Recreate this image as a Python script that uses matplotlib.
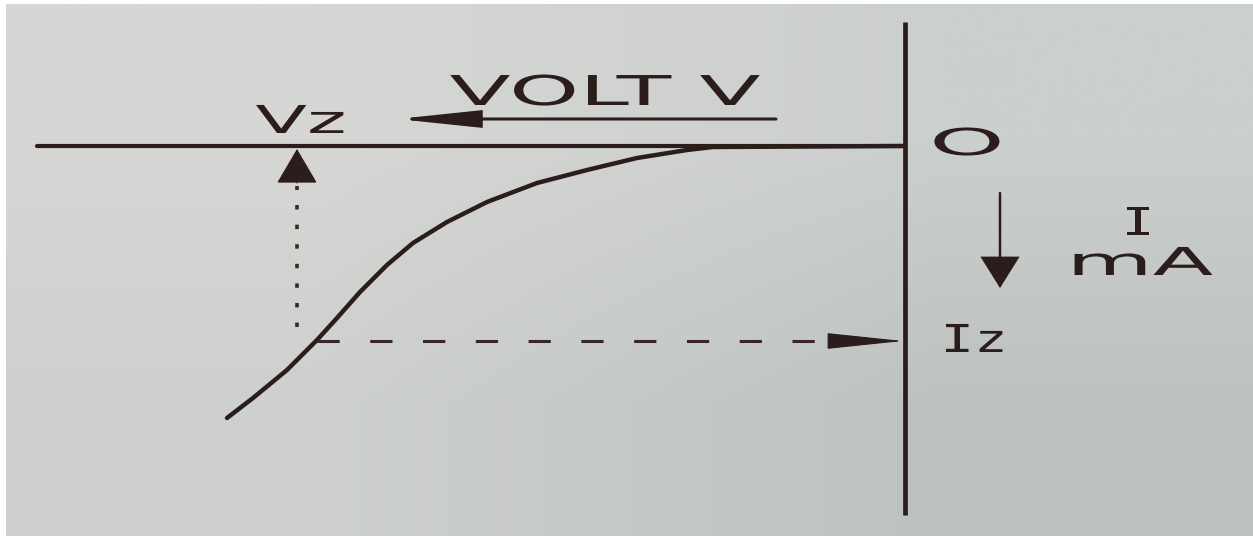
import numpy as np
import matplotlib
matplotlib.use("Agg")
import matplotlib.pyplot as plt
from matplotlib.patheffects import AbstractPathEffect
from matplotlib.transforms import Affine2D
from matplotlib.colors import to_rgb

# ---------------- data (reverse characteristic of a Zener diode) ----------------
# voltage / current in drawing units, origin at O (reverse direction = negative)
curve_v = [-678, -652, -618, -588, -568, -545, -518, -492, -458, -418, -368, -318, -268, -218, -192, 0]
curve_i = [-272, -252, -224, -194, -172, -146, -119, -97, -76, -56, -37, -24, -12, -4, -1, 0]
V_Z = -608          # Zener voltage marker (dotted line)
I_Z = -195          # Zener current marker (dashed line)
V_AT_IZ = -588      # where the dashed Iz line leaves the curve

label_volt = "VOLT V"
label_vz = "Vz"
label_origin = "O"
label_i = "I"
label_ma = "mA"
label_iz = "Iz"

# ---------------- styling ----------------
plt.rcParams["lines.scale_dashes"] = False
INK = "#2a1d1b"
W, H = 1253, 536
LEFT_PX, TOP_PX = 6, 4
OX, OY = 905, 146      # pixel position of the origin

fig = plt.figure(figsize=(W / 100, H / 100), dpi=100, facecolor="white")
ax = fig.add_axes([LEFT_PX / W, 0, (W - LEFT_PX) / W, (H - TOP_PX) / H])
xlim = (LEFT_PX - OX, W - OX)
ylim = (OY - H, OY - TOP_PX)
ax.set_xlim(*xlim)
ax.set_ylim(*ylim)
for s in ax.spines.values():
    s.set_visible(False)
ax.set_xticks([])
ax.set_yticks([])

# paper-like background with a soft shading
corners = np.array([[to_rgb("#cdd0ce"), to_rgb("#bdc2c0")],
                    [to_rgb("#d6d7d5"), to_rgb("#cbcfcd")]])
ax.imshow(corners, extent=(xlim[0], xlim[1], ylim[0], ylim[1]), origin="lower",
          interpolation="bilinear", aspect="auto", zorder=0)


class HStretch(AbstractPathEffect):
    """Draw text stretched horizontally about its anchor point."""

    def __init__(self, sx, text):
        super().__init__()
        self.sx = sx
        self.text = text

    def draw_path(self, renderer, gc, tpath, affine, rgbFace=None):
        x0, y0 = self.text.get_transform().transform(self.text.get_position())
        aff = affine + Affine2D().translate(-x0, -y0).scale(self.sx, 1.0).translate(x0, y0)
        renderer.draw_path(gc, tpath, aff, rgbFace)


def stext(x, y, s, size, sx, family="DejaVu Sans"):
    t = ax.text(x, y, s, fontsize=size, family=family, ha="center", va="baseline",
                color=INK, zorder=5)
    t.set_path_effects([HStretch(sx, t)])
    return t


def arrow(tail, tip, hl, hw, lw):
    ax.annotate("", xy=tip, xytext=tail,
                arrowprops=dict(arrowstyle=f"-|>,head_length={hl},head_width={hw}",
                                mutation_scale=1, lw=lw, color=INK,
                                shrinkA=0, shrinkB=0, joinstyle="miter"),
                zorder=4)


# axes of the characteristic
AX_LEFT, AX_TOP, AX_BOTTOM = -868, 124, -369
ax.plot([AX_LEFT, 0], [0, 0], color=INK, lw=3.0, solid_capstyle="round", zorder=3)
ax.plot([0, 0], [AX_BOTTOM, AX_TOP], color=INK, lw=3.4, solid_capstyle="butt", zorder=3)

# characteristic curve
ax.plot(curve_v, curve_i, color=INK, lw=3.2, solid_joinstyle="round",
        solid_capstyle="round", zorder=3)

# Iz dashed projection with arrow to the current axis
ax.plot([V_AT_IZ, -77], [I_Z, I_Z], color="#3a2626", lw=2.2,
        dashes=(16.0, 22.0), dash_capstyle="butt", zorder=3)
arrow((-77, I_Z), (-2, I_Z), 50, 5.2, 0.8)

# Vz dotted projection with arrow to the voltage axis
ax.plot([V_Z, V_Z], [-181, -40], color="#3a2626", lw=2.6,
        dashes=(3.2, 10.9), dash_capstyle="butt", zorder=3)
arrow((V_Z, -37), (V_Z, -3), 23, 13.5, 0.8)

# direction arrows
arrow((-129, 27), (-508, 27), 50, 5.2, 2.2)     # VOLT V (to the left)
arrow((95, -47), (95, -142), 20, 12.5, 1.8)     # I mA (downwards)

# labels
stext(-300, 41, label_volt, 29.6, 2.17)
stext(-604, 13, label_vz, 27.7, 1.96)
stext(62, -9, label_origin, 26.7, 2.6)
stext(233, -89, label_i, 27.7, 1.35, family="DejaVu Sans Mono")
stext(235, -129, label_ma, 27.7, 2.3)
stext(69, -206, label_iz, 27.7, 1.45, family="DejaVu Sans Mono")

fig.savefig("out.png", dpi=100, facecolor="white")
